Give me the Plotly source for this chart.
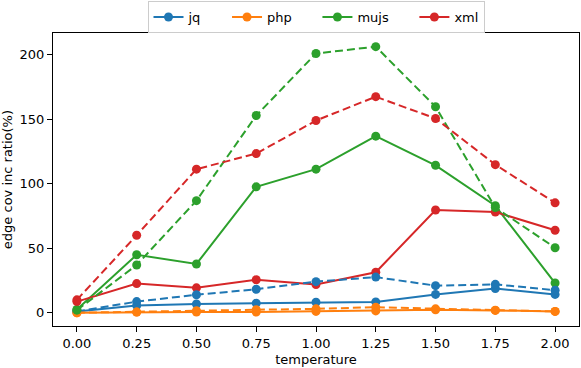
import plotly.graph_objects as go

temperature = [0.00, 0.25, 0.50, 0.75, 1.00, 1.25, 1.50, 1.75, 2.00]

# solid lines
jq_solid = [1.0, 5.6, 6.8, 7.4, 8.1, 8.4, 14.2, 18.8, 14.2]
php_solid = [0.0, 0.5, 0.5, 0.5, 1.0, 1.4, 2.3, 1.8, 1.0]
mujs_solid = [2.5, 44.9, 37.8, 97.6, 111.3, 136.9, 114.3, 82.9, 23.0]
xml_solid = [8.6, 22.6, 19.3, 25.6, 21.8, 31.4, 79.6, 78.1, 63.9]

# dashed lines
jq_dashed = [1.0, 8.6, 13.9, 18.2, 24.1, 27.6, 21.0, 22.0, 17.5]
php_dashed = [0.0, 0.5, 1.5, 2.3, 3.0, 4.3, 3.0, 2.0, 1.0]
mujs_dashed = [2.0, 37.0, 86.9, 152.9, 201.0, 206.3, 159.7, 81.5, 50.4]
xml_dashed = [10.0, 60.1, 111.3, 123.4, 149.0, 167.5, 150.6, 114.8, 85.2]

names = ["jq", "php", "mujs", "xml"]
colors = ["#1f77b4", "#ff7f0e", "#2ca02c", "#d62728"]
solid = [jq_solid, php_solid, mujs_solid, xml_solid]
dashed = [jq_dashed, php_dashed, mujs_dashed, xml_dashed]

fig = go.Figure()

pad = "\u00a0" * 5  # column spacing between legend entries
for i, (name, color, ys) in enumerate(zip(names, colors, solid)):
    label = name if i == len(names) - 1 else name + pad
    fig.add_trace(go.Scatter(
        x=temperature, y=ys, name=label, mode="lines+markers",
        line=dict(color=color, width=2),
        marker=dict(color=color, size=9),
    ))

for name, color, ys in zip(names, colors, dashed):
    fig.add_trace(go.Scatter(
        x=temperature, y=ys, name=name, mode="lines+markers",
        line=dict(color=color, width=2, dash="8px,4px"),
        marker=dict(color=color, size=9),
        showlegend=False,
    ))

axis_style = dict(
    showline=True, linecolor="black", linewidth=1, mirror=True,
    ticks="outside", ticklen=5, tickwidth=1, tickcolor="black",
    showgrid=False, zeroline=False, automargin=False,
)

fig.update_layout(
    width=581, height=368,
    margin=dict(l=53, r=2, t=27, b=42),
    paper_bgcolor="white", plot_bgcolor="white",
    font=dict(family="DejaVu Sans", size=13, color="black"),
    showlegend=True,
    legend=dict(
        orientation="h", x=0.5, xanchor="center", y=0.997, yanchor="top",
        yref="container", bordercolor="#cccccc", borderwidth=1,
        bgcolor="white", font=dict(size=13),
    ),
    xaxis=dict(
        range=[-0.1, 2.1], tickvals=temperature,
        ticktext=["%.2f" % t for t in temperature],
        title=dict(text="temperature", standoff=5, font=dict(size=13)),
        **axis_style,
    ),
    yaxis=dict(
        range=[-10.3, 216.8], tickvals=[0, 50, 100, 150, 200],
        title=dict(text="edge cov inc ratio(%)", standoff=6, font=dict(size=13)),
        **axis_style,
    ),
)

# page body has a default margin; drop it so the figure sits at the corner
fig.write_html("out.html", config={"displayModeBar": False},
               post_script="document.body.style.margin='0px';")
